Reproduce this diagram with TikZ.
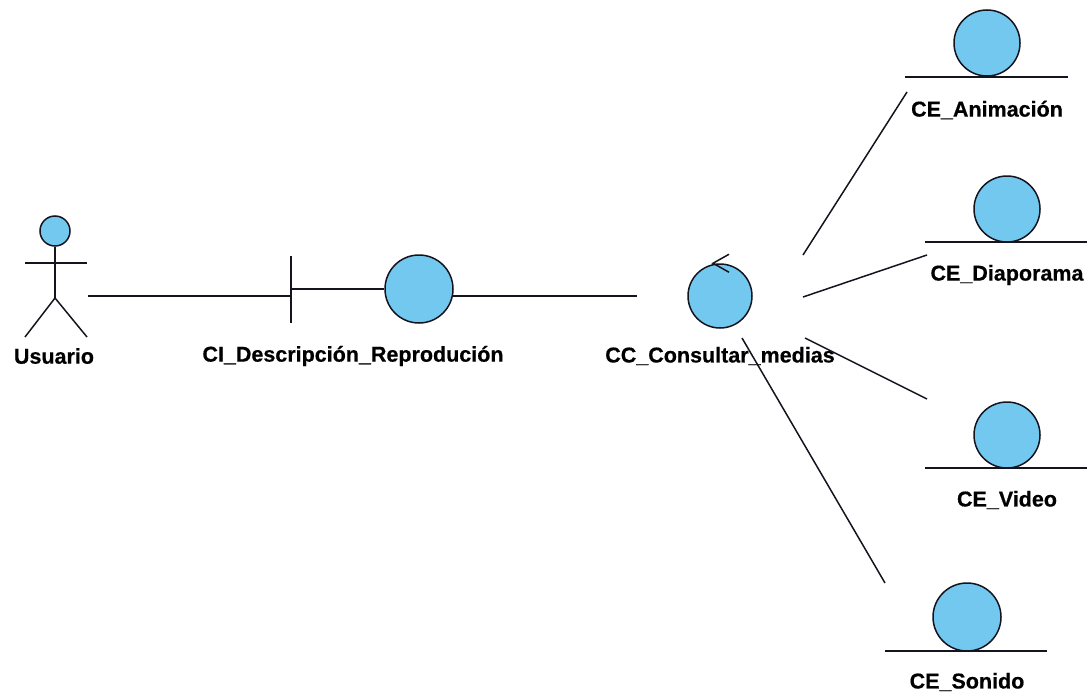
\documentclass[tikz,border=0pt]{standalone}
\usepackage{fontspec}
\setmainfont{Liberation Sans}
\newfontfamily\lblfont[FakeBold=0.5]{Liberation Sans Bold}
\definecolor{ballblue}{RGB}{115,200,240}
\definecolor{inkline}{RGB}{20,20,30}
\begin{document}
\begin{tikzpicture}[x=1pt,y=-1pt,
  lbl/.style={font=\lblfont\fontsize{21.5}{24}\selectfont, inner sep=0pt, anchor=center},
  ball/.style={circle, draw=inkline, fill=ballblue, line width=1.5pt, inner sep=0pt},
  wire/.style={draw=inkline, line width=1.5pt}]
\useasboundingbox (0,0) rectangle (1089,696);

% actor: Usuario
\node[ball, minimum size=30pt] (head) at (55,231) {};
\coordinate (hip) at (55,298);
\coordinate (armL) at (25,263);
\coordinate (armR) at (87,263);
\coordinate (footL) at (25,337);
\coordinate (footR) at (87,337);
\draw[wire] (head.south) -- (hip);
\draw[wire] (armL) -- (armR);
\draw[wire] (footL) -- (hip) -- (footR);
\node[lbl] (usuario) at (54,356) {Usuario};
\coordinate (usr-out) at (88,296);

% boundary: CI_Descripción_Reprodución
\node[ball, minimum size=68pt] (ci) at (419,289) {};
\coordinate (ci-bartop) at (291,256);
\coordinate (ci-barbot) at (291,323);
\coordinate (ci-bar) at (291,289);
\coordinate (ci-in) at (291,296);
\coordinate (ci-out) at (452,296);
\draw[wire] (ci-bartop) -- (ci-barbot);
\draw[wire] (ci-bar) -- (ci.west);
\node[lbl] (cilbl) at (353,356) {CI\_Descripción\_Reprodución};

% control: CC_Consultar_medias
\node[ball, minimum size=64pt] (cc) at (720,296) {};
\draw[wire] ([xshift=-7pt]cc.north) ++(16,-9) -- ++(-16,9) -- ++(16,9);
\node[lbl] (cclbl) at (720,356) {CC\_Consultar\_medias};
\coordinate (cc-in) at (637,296);
\coordinate (cc-ani) at (803,255);
\coordinate (cc-dia) at (803,297);
\coordinate (cc-vid) at (805,338);
\coordinate (cc-son) at (742,338);

% entities
\node[ball, minimum size=66pt] (ani) at (987,43) {};
\draw[wire] (905,77) -- (1068,77);
\node[lbl] (anilbl) at (987,110) {CE\_Animación};
\coordinate (ani-in) at (907,92);

\node[ball, minimum size=66pt] (dia) at (1007,209) {};
\draw[wire] (925,242) -- (1087,242);
\node[lbl] (dialbl) at (1007,275) {CE\_Diaporama};
\coordinate (dia-in) at (927,255);

\node[ball, minimum size=66pt] (vid) at (1007,435) {};
\draw[wire] (925,468) -- (1087,468);
\node[lbl] (vidlbl) at (1007,500) {CE\_Video};
\coordinate (vid-in) at (927,399);

\node[ball, minimum size=68pt] (son) at (967,617) {};
\draw[wire] (885,651) -- (1047,651);
\node[lbl] (sonlbl) at (967,682) {CE\_Sonido};
\coordinate (son-in) at (885,583);

% links
\draw[wire] (usr-out) -- (ci-in);
\draw[wire] (ci-out) -- (cc-in);
\draw[wire] (cc-ani) -- (ani-in);
\draw[wire] (cc-dia) -- (dia-in);
\draw[wire] (cc-vid) -- (vid-in);
\draw[wire] (cc-son) -- (son-in);
\end{tikzpicture}
\end{document}
